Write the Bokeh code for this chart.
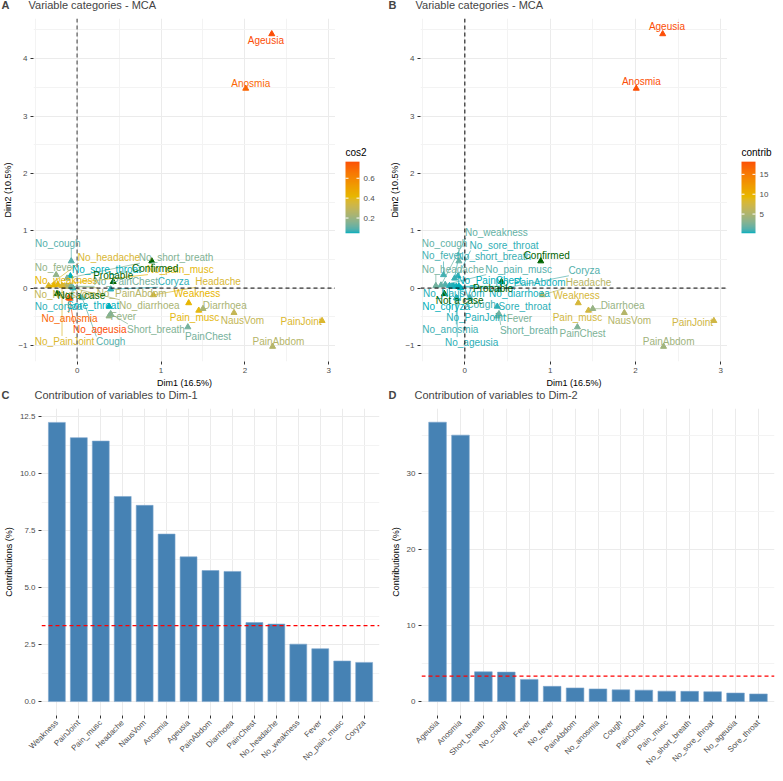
import math
import numpy as np
from bokeh.plotting import figure
from bokeh.models import (Range1d, FactorRange, FixedTicker, LinearColorMapper,
                          Span, Label, ColumnDataSource, NumeralTickFormatter)
from bokeh.layouts import column, row
from bokeh.embed import file_html
from bokeh.resources import INLINE
from bokeh.core.properties import value

# ---------------- data ----------------
CATEGORIES = ["Coryza", "No_coryza", "Fever", "No_fever", "Cough", "No_cough",
              "Sore_throat", "No_sore_throat", "Short_breath", "No_short_breath",
              "Headache", "No_headache", "Pain_musc", "No_pain_musc", "Weakness", "No_weakness",
              "Diarrhoea", "No_diarrhoea", "NausVom", "No_NausVom", "PainAbdom", "No_PainAbdom",
              "PainChest", "No_PainChest", "PainJoint", "No_PainJoint", "Anosmia", "No_anosmia",
              "Ageusia", "No_ageusia"]
DIM1 = [0.40, -0.05, 0.38, -0.25, 0.06, -0.07,
        0.38, -0.08, 0.40, -0.12,
        0.91, -0.34, 1.45, -0.23, 1.33, -0.28,
        1.50, -0.13, 1.87, -0.15, 2.33, -0.10,
        1.32, -0.07, 2.92, -0.18, 2.01, -0.10,
        2.32, -0.09]
DIM2 = [-0.02, 0.00, -0.49, 0.23, -0.17, 0.47,
        -0.32, 0.21, -0.45, 0.17,
        -0.12, 0.04, -0.39, 0.06, -0.26, 0.05,
        -0.36, 0.03, -0.43, 0.03, -1.02, 0.03,
        -0.68, 0.03, -0.57, 0.04, 3.48, -0.17,
        4.43, -0.18]
COS2 = [0.06, 0.06, 0.18, 0.18, 0.09, 0.09,
        0.047, 0.047, 0.15, 0.15,
        0.36, 0.36, 0.40, 0.40, 0.42, 0.42,
        0.23, 0.23, 0.30, 0.30, 0.26, 0.26,
        0.13, 0.13, 0.37, 0.37, 0.70, 0.70,
        0.767, 0.767]
CONTRIB = [1.2, 0.17, 2.55, 0.85, 0.75, 1.6,
           0.5, 0.55, 2.0, 0.6,
           5.6, 2.1, 7.5, 1.2, 7.8, 1.6,
           3.7, 0.3, 5.4, 0.35, 4.2, 0.25,
           2.7, 0.2, 7.3, 0.4, 18.0, 0.7,
           18.2, 0.5]
SUPPL = ["Confirmed", "Probable", "Not a case"]
SUPPL_DIM1 = [0.89, 0.43, -0.24]
SUPPL_DIM2 = [0.47, 0.11, -0.10]

DIM1_NAMES = ["Weakness", "PainJoint", "Pain_musc", "Headache", "NausVom", "Anosmia", "Ageusia",
              "PainAbdom", "Diarrhoea", "PainChest", "No_headache", "No_weakness", "Fever",
              "No_pain_musc", "Coryza"]
DIM1_VALUES = [12.25, 11.58, 11.43, 9.00, 8.61, 7.35, 6.35, 5.75, 5.71, 3.47, 3.40, 2.52, 2.32, 1.78, 1.72]
DIM2_NAMES = ["Ageusia", "Anosmia", "Short_breath", "No_cough", "Fever", "No_fever", "PainAbdom",
              "No_anosmia", "Cough", "PainChest", "Pain_musc", "No_short_breath", "No_sore_throat",
              "No_ageusia", "Sore_throat"]
DIM2_VALUES = [36.7, 35.0, 3.91, 3.87, 2.91, 2.00, 1.79, 1.66, 1.54, 1.50, 1.37, 1.34, 1.29, 1.12, 1.00]
EXPECTED = 100.0 / 30

PANEL_TITLES = {"A": "Variable categories - MCA", "B": "Variable categories - MCA",
                "C": "Contribution of variables to Dim-1", "D": "Contribution of variables to Dim-2"}

# ---------------- label layout (repel placement, data units) ----------------
LABEL_AT_A = {
    "Ageusia": (2.25, 4.31), "Anosmia": (2.07, 3.57), "No_cough": (-0.23, 0.78),
    "No_headache": (0.38, 0.53), "No_short_breath": (1.18, 0.53), "No_fever": (-0.30, 0.36),
    "No_sore_throat": (0.35, 0.33), "Confirmed": (0.93, 0.34), "No_pain_musc": (1.23, 0.33),
    "No_weakness": (-0.13, 0.13), "Probable": (0.43, 0.22), "No_PainChest": (0.58, 0.11),
    "Coryza": (1.15, 0.11), "Headache": (1.68, 0.11), "No_NausVom": (-0.32, -0.11),
    "Not a case": (0.05, -0.13), "No_PainAbdom": (0.65, -0.09), "Weakness": (1.43, -0.10),
    "No_coryza": (-0.26, -0.32), "Sore_throat": (0.19, -0.30), "No_diarrhoea": (0.86, -0.30),
    "Diarrhoea": (1.76, -0.30), "No_anosmia": (-0.09, -0.53), "Fever": (0.55, -0.50),
    "Pain_musc": (1.40, -0.51), "NausVom": (1.97, -0.56), "PainJoint": (2.67, -0.59),
    "No_ageusia": (0.27, -0.72), "Short_breath": (0.94, -0.72), "PainChest": (1.56, -0.84),
    "No_PainJoint": (-0.15, -0.93), "Cough": (0.40, -0.94), "PainAbdom": (2.40, -0.94),
}
LABEL_AT_B = {
    "Ageusia": (2.37, 4.56), "Anosmia": (2.07, 3.61), "No_weakness": (0.37, 0.97),
    "No_cough": (-0.24, 0.78), "No_sore_throat": (0.46, 0.75), "No_fever": (-0.29, 0.56),
    "No_short_breath": (0.34, 0.55), "Confirmed": (0.96, 0.57), "No_headache": (-0.14, 0.33),
    "No_pain_musc": (0.63, 0.33), "Coryza": (1.40, 0.31), "No_PainChest": (0.29, 0.13),
    "No_PainAbdom": (0.77, 0.10), "Headache": (1.45, 0.10), "Probable": (0.33, 0.00),
    "No_NausVom": (-0.13, -0.09), "No_diarrhoea": (0.64, -0.10), "Weakness": (1.31, -0.13),
    "Not a case": (-0.06, -0.21), "No_coryza": (-0.22, -0.32), "Cough": (0.19, -0.29),
    "Sore_throat": (0.70, -0.32), "Diarrhoea": (1.85, -0.31), "No_PainJoint": (0.13, -0.52),
    "Fever": (0.64, -0.53), "Pain_musc": (1.32, -0.52), "NausVom": (1.93, -0.57),
    "PainJoint": (2.67, -0.60), "No_anosmia": (-0.17, -0.73), "Short_breath": (0.75, -0.74),
    "PainChest": (1.38, -0.80), "No_ageusia": (0.08, -0.95), "PainAbdom": (2.39, -0.94),
}

FONT = "Liberation Sans"
TICK_COL = "#4D4D4D"
GRID_MAJ = "#EBEBEB"
GRID_MIN = "#F3F3F3"
SUP_COL = "#006400"
LABEL_FS = 10

# Arial-like advance widths (per 1000 em)
_W = {c: 556 for c in "abcdeghnopqu0123456789_"}
_W.update({"f": 278, "i": 222, "j": 222, "l": 222, "t": 278, "r": 333, "s": 500, "c": 500, "k": 500,
           "v": 500, "x": 500, "y": 500, "z": 500, "m": 833, "w": 722, " ": 278, "N": 722, "A": 667,
           "C": 722, "D": 722, "F": 611, "H": 722, "J": 500, "P": 667, "S": 667, "W": 944})


def text_w(s, fs):
    return sum(_W.get(ch, 556) for ch in s) * fs / 1000.0


def hex_to_rgb(h):
    h = h.lstrip("#")
    return np.array([int(h[i:i + 2], 16) for i in (0, 2, 4)], dtype=float) / 255.0


def rgb_to_lab(c):
    lin = np.where(c <= 0.04045, c / 12.92, ((c + 0.055) / 1.055) ** 2.4)
    M = np.array([[0.4124, 0.3576, 0.1805], [0.2126, 0.7152, 0.0722], [0.0193, 0.1192, 0.9505]])
    xyz = M @ lin / np.array([0.95047, 1.0, 1.08883])
    d = 6 / 29
    f = np.where(xyz > d ** 3, np.cbrt(xyz), xyz / (3 * d * d) + 4 / 29)
    return np.array([116 * f[1] - 16, 500 * (f[0] - f[1]), 200 * (f[1] - f[2])])


def lab_to_hex(lab):
    L, a, b = lab
    fy = (L + 16) / 116
    fx = fy + a / 500
    fz = fy - b / 200
    d = 6 / 29
    f = np.array([fx, fy, fz])
    xyz = np.where(f > d, f ** 3, 3 * d * d * (f - 4 / 29)) * np.array([0.95047, 1.0, 1.08883])
    Minv = np.array([[3.2406, -1.5372, -0.4986], [-0.9689, 1.8758, 0.0415], [0.0557, -0.2040, 1.0570]])
    lin = Minv @ xyz
    c = np.where(lin <= 0.0031308, 12.92 * lin, 1.055 * np.clip(lin, 0, None) ** (1 / 2.4) - 0.055)
    c = np.clip(c, 0, 1)
    return "#%02x%02x%02x" % tuple(int(round(v * 255)) for v in c)


def gradient(cols, n=256):
    labs = [rgb_to_lab(hex_to_rgb(c)) for c in cols]
    out = []
    for i in range(n):
        t = i / (n - 1) * (len(cols) - 1)
        k = min(int(t), len(cols) - 2)
        u = t - k
        out.append(lab_to_hex(labs[k] * (1 - u) + labs[k + 1] * u))
    return out


PALETTE = gradient(["#00AFBB", "#E7B800", "#FC4E07"])


def blank_fig(width, height, top, bottom, xr=(0, 1), yr=(0, 1)):
    p = figure(width=width, height=height, x_range=Range1d(*xr), y_range=Range1d(*yr),
               x_axis_type=None, y_axis_type=None, output_backend="svg", toolbar_location=None,
               min_border_left=0, min_border_right=0, min_border_top=top, min_border_bottom=bottom)
    p.outline_line_color = None
    p.background_fill_color = "white"
    return p


def title_strip(items, width=775, height=16):
    # items: (letter, letter_x, title_x) in strip pixels (screen units)
    p = blank_fig(width, height, 0, 0)
    for letter, lx, tx in items:
        p.add_layout(Label(x=lx, y=height - 4, x_units="screen", y_units="screen", text=letter,
                           text_font=FONT, text_font_size="11px", text_font_style="bold",
                           text_baseline="middle", text_align="left"))
        p.add_layout(Label(x=tx, y=height - 4, x_units="screen", y_units="screen",
                           text=PANEL_TITLES[letter], text_font=FONT, text_font_size="11px",
                           text_baseline="middle", text_align="left"))
    return p


def style_axes(p):
    p.outline_line_color = None
    for ax in (p.xaxis, p.yaxis):
        ax.axis_line_color = None
        ax.major_tick_line_color = "#333333"
        ax.major_tick_out = 3
        ax.major_tick_in = 0
        ax.minor_tick_line_color = None
        ax.major_label_text_font = FONT
        ax.major_label_text_font_size = "8px"
        ax.major_label_text_color = TICK_COL
        ax.major_label_standoff = 2
        ax.axis_label_text_font = FONT
        ax.axis_label_text_font_size = "9px"
        ax.axis_label_text_font_style = "normal"
        ax.axis_label_text_color = "black"
        ax.axis_label_standoff = 3
    p.xgrid.grid_line_color = GRID_MAJ
    p.ygrid.grid_line_color = GRID_MAJ
    p.xgrid.minor_grid_line_color = GRID_MIN
    p.ygrid.minor_grid_line_color = GRID_MIN


XR = (-0.52, 3.08)
YR = (-1.28, 4.70)
TOP_H = 374
S_TOP, S_BOTTOM = 2, 27
BAR_W, BAR_H = 14, 72
BAR_BOTTOM_FROM_TOP = 216


def colour_legend(mapper, title, ticks, width, frame_h, pad):
    """Gradient key drawn with the panel's colour mapper in its own narrow figure."""
    leg = blank_fig(width, TOP_H, S_TOP, S_BOTTOM, xr=(0, width), yr=(0, frame_h))
    y0 = frame_h - BAR_BOTTOM_FROM_TOP          # bar bottom (pixels up from frame bottom)
    y1 = y0 + BAR_H
    grad = np.linspace(mapper.low, mapper.high, 256).reshape(256, 1)
    leg.image(image=[grad], x=pad, y=y0, dw=BAR_W, dh=BAR_H, color_mapper=mapper)
    ty = [y0 + (t - mapper.low) / (mapper.high - mapper.low) * BAR_H for t in ticks]
    leg.segment(x0=[pad] * len(ty), x1=[pad + 3] * len(ty), y0=ty, y1=ty,
                line_color="white", line_width=1)
    leg.segment(x0=[pad + BAR_W - 3] * len(ty), x1=[pad + BAR_W] * len(ty), y0=ty, y1=ty,
                line_color="white", line_width=1)
    leg.text(x=[pad + BAR_W + 4] * len(ty), y=ty, text=[("%g" % t) for t in ticks],
             text_font=value(FONT), text_font_size=value("8px"), text_color=TICK_COL,
             text_baseline="middle", text_align="left")
    leg.text(x=[pad], y=[y1 + 4], text=[title], text_font=value(FONT),
             text_font_size=value("10px"), text_color="black", text_baseline="bottom",
             text_align="left")
    return leg


def scatter_panel(color_vals, low, high, legend_title, legend_ticks, label_at, vline_col,
                  vline_w, width, left, leg_width, leg_pad):
    frame_w = width - left
    frame_h = TOP_H - S_TOP - S_BOTTOM
    p = figure(width=width, height=TOP_H, x_range=Range1d(*XR), y_range=Range1d(*YR),
               output_backend="svg", toolbar_location=None, min_border_left=left,
               min_border_right=0, min_border_top=S_TOP, min_border_bottom=S_BOTTOM)
    style_axes(p)
    p.xaxis.ticker = FixedTicker(ticks=[0, 1, 2, 3], minor_ticks=[-0.5, 0.5, 1.5, 2.5])
    p.yaxis.ticker = FixedTicker(ticks=[-1, 0, 1, 2, 3, 4], minor_ticks=[-0.5, 0.5, 1.5, 2.5, 3.5, 4.5])
    p.xaxis.axis_label = "Dim1 (16.5%)"
    p.yaxis.axis_label = "Dim2 (10.5%)"
    p.xaxis.axis_label_standoff = 2
    p.yaxis.axis_label_standoff = 2

    p.add_layout(Span(location=0, dimension="height", line_color=vline_col, line_dash="4 3",
                      line_width=vline_w))
    p.add_layout(Span(location=0, dimension="width", line_color="black", line_dash="4 3",
                      line_width=1))

    mapper = LinearColorMapper(palette=PALETTE, low=low, high=high)
    ppx = frame_w / (XR[1] - XR[0])
    ppy = frame_h / (YR[1] - YR[0])

    names = CATEGORIES + SUPPL
    xs = DIM1 + SUPPL_DIM1
    ys = DIM2 + SUPPL_DIM2
    vals = list(color_vals) + [None] * len(SUPPL)

    seg = {"x0": [], "y0": [], "x1": [], "y1": [], "v": []}
    sseg = {"x0": [], "y0": [], "x1": [], "y1": []}
    lab = {"x": [], "y": [], "t": [], "v": []}
    slab = {"x": [], "y": [], "t": []}
    for n, x, y, v in zip(names, xs, ys, vals):
        lx, ly = label_at[n]
        hw = text_w(n, LABEL_FS) / 2 / ppx
        hh = LABEL_FS * 0.55 / ppy
        lx = min(max(lx, XR[0] + hw + 2 / ppx), XR[1] - hw - 2 / ppx)
        ly = min(max(ly, YR[0] + hh + 2 / ppy), YR[1] - hh - 2 / ppy)
        nx = min(max(x, lx - hw), lx + hw)
        ny = min(max(y, ly - hh), ly + hh)
        d = math.hypot((x - nx) * ppx, (y - ny) * ppy)
        if v is None:
            slab["x"].append(lx); slab["y"].append(ly); slab["t"].append(n)
            if d > 5:
                sseg["x0"].append(x); sseg["y0"].append(y); sseg["x1"].append(nx); sseg["y1"].append(ny)
        else:
            lab["x"].append(lx); lab["y"].append(ly); lab["t"].append(n); lab["v"].append(v)
            if d > 5:
                seg["x0"].append(x); seg["y0"].append(y); seg["x1"].append(nx); seg["y1"].append(ny)
                seg["v"].append(v)

    cmap = {"field": "v", "transform": mapper}
    p.segment(x0="x0", y0="y0", x1="x1", y1="y1", source=ColumnDataSource(seg),
              line_color=cmap, line_width=0.7)
    p.segment(x0="x0", y0="y0", x1="x1", y1="y1", source=ColumnDataSource(sseg),
              line_color=SUP_COL, line_width=0.7)
    pts = ColumnDataSource({"x": DIM1, "y": DIM2, "v": list(color_vals)})
    p.scatter(x="x", y="y", source=pts, marker="triangle", size=6, fill_color=cmap,
              line_color=cmap)
    p.scatter(x=SUPPL_DIM1, y=SUPPL_DIM2, marker="triangle", size=6, fill_color=SUP_COL,
              line_color=SUP_COL)
    p.text(x="x", y="y", text="t", source=ColumnDataSource(lab), text_color=cmap,
           text_font=value(FONT), text_font_size=value("%dpx" % LABEL_FS),
           text_align="center", text_baseline="middle")
    p.text(x="x", y="y", text="t", source=ColumnDataSource(slab), text_color=SUP_COL,
           text_font=value(FONT), text_font_size=value("%dpx" % LABEL_FS),
           text_align="center", text_baseline="middle")

    leg = colour_legend(mapper, legend_title, legend_ticks, leg_width, frame_h, leg_pad)
    return p, leg


BOT_H = 367


def bar_panel(names, vals, ymax_range, ticks, minor, fmt, width, left, right):
    top, bottom = 2, 43
    p = figure(width=width, height=BOT_H,
               x_range=FactorRange(factors=names, range_padding=0.2, range_padding_units="absolute"),
               y_range=Range1d(*ymax_range), output_backend="svg", toolbar_location=None,
               min_border_left=left, min_border_right=right, min_border_top=top,
               min_border_bottom=bottom)
    style_axes(p)
    p.yaxis.ticker = FixedTicker(ticks=ticks, minor_ticks=minor)
    p.yaxis.formatter = NumeralTickFormatter(format=fmt)
    p.yaxis.axis_label = "Contributions (%)"
    p.xaxis.major_label_orientation = math.pi / 4
    p.xaxis.major_label_standoff = 3
    p.vbar(x=names, top=vals, width=0.77, fill_color="#4682B4", line_color="#7ea6cc",
           line_width=0.6)
    p.add_layout(Span(location=EXPECTED, dimension="width", line_color="#FF0000", line_dash="4 3",
                      line_width=1.2))
    return p


pA, legA = scatter_panel(COS2, 0.047, 0.767, "cos2", [0.2, 0.4, 0.6], LABEL_AT_A, "#7f7f7f", 1.6,
                         335, 24, 52, 10)
pB, legB = scatter_panel(CONTRIB, 0.17, 18.2, "contrib", [5, 10, 15], LABEL_AT_B, "black", 1.0,
                         340, 24, 48, 14)
pC = bar_panel(DIM1_NAMES, DIM1_VALUES, (-0.61, 12.86), [0, 2.5, 5, 7.5, 10, 12.5],
               [1.25, 3.75, 6.25, 8.75, 11.25], "0.0", 387, 32, 8)
pD = bar_panel(DIM2_NAMES, DIM2_VALUES, (-1.83, 38.5), [0, 10, 20, 30],
               [5, 15, 25, 35], "0", 388, 26, 1)

top_titles = title_strip([("A", 1, 28), ("B", 388, 415)])
bottom_titles = title_strip([("C", 1, 34), ("D", 388, 414)])

layout = column(top_titles, row(pA, legA, pB, legB), bottom_titles, row(pC, pD))
open("out.html", "w").write(file_html(layout, INLINE))
